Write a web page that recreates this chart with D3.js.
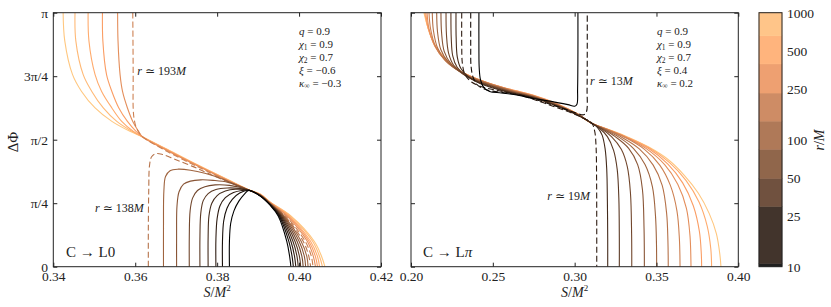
<!DOCTYPE html>
<html>
<head>
<meta charset="utf-8">
<script src="https://cdn.jsdelivr.net/npm/d3@7"></script>
<style>
  body { margin: 0; background: #fff; }
</style>
</head>
<body>
<svg id="chart"></svg>
<script>
// r/M of each curve (colour), 15 log-spaced separations
var rValues = [10, 13.9, 19.3, 26.8, 37.3, 51.8, 72.0, 100, 139, 193, 268, 373, 518, 720, 1000];

// Left panel, C -> L0. Points are [S/M^2, dPhi/pi].
// heads: from the frame edge to the meeting point near S=0.3877
var leftHeads = [
  [[0.3830,0],[0.3830,0.10],[0.3833,0.17],[0.3841,0.220],[0.3853,0.258],[0.3866,0.285],[0.3877,0.300]],
  [[0.3813,0],[0.3813,0.10],[0.3816,0.18],[0.3824,0.230],[0.3837,0.265],[0.3855,0.290],[0.3877,0.301]],
  [[0.3797,0],[0.3797,0.11],[0.3800,0.19],[0.3807,0.240],[0.3820,0.272],[0.3840,0.292],[0.3860,0.300],[0.3877,0.301]],
  [[0.3778,0],[0.3778,0.12],[0.3780,0.20],[0.3787,0.250],[0.3800,0.280],[0.3820,0.298],[0.3845,0.305],[0.3877,0.301]],
  [[0.3758,0],[0.3758,0.12],[0.3760,0.21],[0.3766,0.260],[0.3778,0.288],[0.3797,0.304],[0.3825,0.310],[0.3855,0.308],[0.3877,0.302]],
  [[0.3732,0],[0.3732,0.12],[0.3734,0.22],[0.3740,0.270],[0.3752,0.300],[0.3770,0.315],[0.3795,0.322],[0.3830,0.320],[0.3877,0.302]],
  [[0.3701,0],[0.3701,0.12],[0.3702,0.24],[0.3707,0.295],[0.3718,0.325],[0.3735,0.337],[0.3760,0.342],[0.3790,0.340],[0.3827,0.332],[0.3877,0.302]],
  [[0.3669,0],[0.3669,0.15],[0.3670,0.30],[0.3674,0.355],[0.3685,0.378],[0.3705,0.384],[0.3735,0.380],[0.3770,0.368],[0.3805,0.350],[0.3840,0.327],[0.3877,0.302]],
  [[0.3632,0],[0.3632,0.15],[0.3633,0.30],[0.3635,0.40],[0.3640,0.433],[0.3650,0.445],[0.3665,0.443],[0.3698,0.422],[0.3740,0.395],[0.3780,0.366],[0.3827,0.334],[0.3877,0.302]],
  [[0.3594,1],[0.3595,0.756],[0.3595,0.625],[0.3597,0.585],[0.3602,0.550],[0.3610,0.526],[0.3618,0.511],[0.3673,0.458],[0.3753,0.393],[0.3827,0.337],[0.3877,0.302]],
  [[0.3557,1],[0.3558,0.889],[0.3563,0.756],[0.3569,0.690],[0.3581,0.625],[0.3594,0.572],[0.3608,0.533],[0.3618,0.511],[0.3673,0.461],[0.3753,0.396],[0.3827,0.338],[0.3877,0.302]],
  [[0.3520,1],[0.3521,0.889],[0.3530,0.756],[0.3543,0.690],[0.3560,0.625],[0.3581,0.572],[0.3602,0.533],[0.3618,0.511],[0.3673,0.463],[0.3753,0.397],[0.3827,0.339],[0.3877,0.302]],
  [[0.3485,1],[0.3487,0.889],[0.3502,0.756],[0.3518,0.690],[0.3543,0.625],[0.3567,0.572],[0.3595,0.533],[0.3618,0.511],[0.3673,0.464],[0.3753,0.398],[0.3827,0.340],[0.3877,0.302]],
  [[0.3453,1],[0.3455,0.889],[0.3473,0.756],[0.3494,0.690],[0.3522,0.625],[0.3555,0.572],[0.3592,0.533],[0.3618,0.511],[0.3673,0.465],[0.3753,0.399],[0.3827,0.341],[0.3877,0.303]],
  [[0.3424,1],[0.3428,0.889],[0.3447,0.756],[0.3469,0.690],[0.3502,0.625],[0.3543,0.572],[0.3587,0.533],[0.3618,0.511],[0.3673,0.466],[0.3753,0.400],[0.3827,0.342],[0.3877,0.303]]
];
// tails: from the meeting point down to dPhi = 0
var leftTails = [
  [[0.3905,0.278],[0.3930,0.241],[0.3949,0.2],[0.3970,0.1],[0.3977,0.04],[0.3980,0]],
  [[0.3905,0.279],[0.3930,0.242],[0.3951,0.2],[0.3975,0.1],[0.3983,0.04],[0.3986,0]],
  [[0.3905,0.279],[0.3930,0.243],[0.3953,0.2],[0.3980,0.1],[0.3989,0.04],[0.3992,0]],
  [[0.3905,0.280],[0.3930,0.244],[0.3955,0.2],[0.3985,0.1],[0.3995,0.04],[0.3998,0]],
  [[0.3905,0.280],[0.3930,0.245],[0.3957,0.2],[0.3990,0.1],[0.4001,0.04],[0.4004,0]],
  [[0.3905,0.281],[0.3930,0.246],[0.3959,0.2],[0.3995,0.1],[0.4007,0.04],[0.4010,0]],
  [[0.3905,0.281],[0.3930,0.247],[0.3961,0.2],[0.4000,0.1],[0.4013,0.04],[0.4016,0]],
  [[0.3905,0.282],[0.3930,0.248],[0.3963,0.2],[0.4005,0.1],[0.4019,0.04],[0.4022,0]],
  [[0.3905,0.282],[0.3930,0.249],[0.3965,0.2],[0.4010,0.1],[0.4024,0.04],[0.4028,0]],
  [[0.3905,0.283],[0.3930,0.250],[0.3967,0.2],[0.4015,0.1],[0.4030,0.04],[0.4034,0]],
  [[0.3905,0.283],[0.3930,0.251],[0.3970,0.2],[0.4020,0.1],[0.4035,0.04],[0.4040,0]],
  [[0.3905,0.284],[0.3930,0.252],[0.3973,0.2],[0.4024,0.1],[0.4040,0.04],[0.4045,0]],
  [[0.3905,0.285],[0.3930,0.252],[0.3975,0.2],[0.4028,0.1],[0.4045,0.04],[0.4050,0]],
  [[0.3905,0.285],[0.3930,0.253],[0.3978,0.2],[0.4033,0.1],[0.4050,0.04],[0.4057,0]],
  [[0.3905,0.286],[0.3930,0.254],[0.3980,0.2],[0.4037,0.1],[0.4055,0.04],[0.4063,0]]
];
var leftR = rValues;
var leftDashed = [8, 9];

// Right panel, C -> L pi
var rightR = [10, 13.9, 19.3, 26.8, 37.3, 51.8, 72.0, 100, 139, 193, 268, 373, 518, 1000];
var rightHeads = [
  [[0.2415,1],[0.2415,0.86],[0.2417,0.78],[0.2425,0.735],[0.2445,0.705],[0.2480,0.690],[0.2552,0.684],[0.2654,0.675],[0.2756,0.661],[0.2857,0.651],[0.2959,0.638],[0.3000,0.632],[0.3014,0.640],[0.3018,0.700],[0.3020,0.850],[0.3020,1]],
  [[0.2365,1],[0.2365,0.87],[0.2367,0.79],[0.2380,0.745],[0.2410,0.713],[0.2470,0.695],[0.2560,0.686],[0.2680,0.674],[0.2800,0.650],[0.2920,0.625],[0.3010,0.605],[0.3055,0.598],[0.3072,0.610],[0.3076,0.700],[0.3077,0.850],[0.3077,1]],
  [[0.2310,1],[0.2310,0.88],[0.2314,0.80],[0.2330,0.757],[0.2370,0.727],[0.2450,0.705],[0.2550,0.691],[0.2700,0.669],[0.2850,0.636],[0.3000,0.600],[0.3104,0.565]],
  [[0.2275,1],[0.2276,0.90],[0.2283,0.825],[0.2305,0.780],[0.2350,0.748],[0.2450,0.714],[0.2600,0.686],[0.2750,0.664],[0.2900,0.630],[0.3020,0.596],[0.3104,0.565]],
  [[0.2244,1],[0.2246,0.90],[0.2255,0.830],[0.2282,0.785],[0.2335,0.752],[0.2450,0.717],[0.2600,0.688],[0.2750,0.666],[0.2900,0.632],[0.3020,0.597],[0.3104,0.565]],
  [[0.2214,1],[0.2217,0.91],[0.2230,0.840],[0.2262,0.792],[0.2325,0.756],[0.2450,0.720],[0.2600,0.690],[0.2750,0.667],[0.2900,0.633],[0.3020,0.598],[0.3104,0.565]],
  [[0.2183,1],[0.2187,0.92],[0.2203,0.848],[0.2245,0.798],[0.2315,0.760],[0.2450,0.722],[0.2600,0.692],[0.2750,0.668],[0.2900,0.634],[0.3020,0.598],[0.3104,0.565]],
  [[0.2157,1],[0.2162,0.925],[0.2182,0.855],[0.2230,0.803],[0.2310,0.763],[0.2450,0.724],[0.2600,0.694],[0.2750,0.669],[0.2900,0.635],[0.3020,0.599],[0.3104,0.565]],
  [[0.2130,1],[0.2137,0.93],[0.2162,0.862],[0.2215,0.808],[0.2305,0.766],[0.2450,0.726],[0.2600,0.696],[0.2750,0.671],[0.2900,0.636],[0.3020,0.599],[0.3104,0.565]],
  [[0.2110,1],[0.2120,0.935],[0.2150,0.866],[0.2208,0.812],[0.2303,0.767],[0.2450,0.727],[0.2600,0.697],[0.2750,0.672],[0.2900,0.637],[0.3020,0.600],[0.3104,0.565]],
  [[0.2098,1],[0.2110,0.937],[0.2145,0.869],[0.2205,0.816],[0.2303,0.768],[0.2450,0.728],[0.2600,0.698],[0.2750,0.673],[0.2900,0.638],[0.3020,0.600],[0.3104,0.565]],
  [[0.2090,1],[0.2106,0.938],[0.2145,0.871],[0.2205,0.819],[0.2305,0.769],[0.2450,0.728],[0.2600,0.699],[0.2750,0.674],[0.2900,0.639],[0.3020,0.601],[0.3104,0.565]],
  [[0.2084,1],[0.2104,0.939],[0.2145,0.873],[0.2206,0.821],[0.2306,0.769],[0.2450,0.728],[0.2600,0.699],[0.2750,0.675],[0.2900,0.640],[0.3020,0.601],[0.3104,0.565]],
  [[0.2079,1],[0.2104,0.940],[0.2145,0.874],[0.2206,0.822],[0.2307,0.769],[0.2450,0.728],[0.2654,0.682],[0.2837,0.647],[0.3000,0.604],[0.3104,0.565]]
];
var rightTails = [
  [],
  [],
  [[0.3122,0.535],[0.3131,0.470],[0.3134,0.350],[0.3135,0.150],[0.3135,0]],
  [[0.3140,0.548],[0.3168,0.518],[0.3186,0.465],[0.3196,0.385],[0.3200,0.260],[0.3202,0.110],[0.3202,0]],
  [[0.3150,0.546],[0.3200,0.512],[0.3238,0.458],[0.3260,0.383],[0.3270,0.270],[0.3273,0.110],[0.3273,0]],
  [[0.3160,0.545],[0.3225,0.512],[0.3285,0.462],[0.3322,0.393],[0.3341,0.290],[0.3348,0.130],[0.3349,0]],
  [[0.3170,0.543],[0.3250,0.511],[0.3330,0.466],[0.3385,0.402],[0.3414,0.305],[0.3424,0.150],[0.3426,0]],
  [[0.3180,0.542],[0.3270,0.510],[0.3360,0.465],[0.3430,0.402],[0.3475,0.315],[0.3494,0.200],[0.3500,0.090],[0.3501,0]],
  [[0.3190,0.541],[0.3290,0.509],[0.3395,0.464],[0.3480,0.400],[0.3535,0.320],[0.3562,0.210],[0.3570,0.100],[0.3572,0]],
  [[0.3200,0.540],[0.3310,0.508],[0.3425,0.463],[0.3520,0.400],[0.3585,0.320],[0.3625,0.220],[0.3640,0.110],[0.3644,0]],
  [[0.3200,0.540],[0.3320,0.508],[0.3440,0.464],[0.3550,0.402],[0.3630,0.325],[0.3683,0.230],[0.3705,0.120],[0.3711,0]],
  [[0.3200,0.541],[0.3320,0.509],[0.3450,0.466],[0.3570,0.404],[0.3660,0.330],[0.3725,0.240],[0.3762,0.140],[0.3774,0.05],[0.3776,0]],
  [[0.3200,0.541],[0.3320,0.510],[0.3455,0.468],[0.3580,0.410],[0.3680,0.340],[0.3760,0.255],[0.3810,0.160],[0.3832,0.07],[0.3837,0]],
  [[0.3200,0.542],[0.3320,0.512],[0.3450,0.472],[0.3565,0.425],[0.3670,0.360],[0.3755,0.290],[0.3822,0.210],[0.3866,0.130],[0.3887,0.050],[0.3894,0]]
];
var rightDashed = [1, 2];

// ticks and text
var leftXTicks = [0.34, 0.36, 0.38, 0.40, 0.42];
var rightXTicks = [0.20, 0.25, 0.30, 0.35, 0.40];
var yTicks = [0, 0.25, 0.5, 0.75, 1];
var yTickLabels = ["0", "π/4", "π/2", "3π/4", "π"];
var paramNames = ["q", "χ", "χ", "ξ", "κ"];
var paramSubs = ["", "1", "2", "", "∞"];
var leftParams = ["0.9", "0.9", "0.7", "−0.6", "−0.3"];
var rightParams = ["0.9", "0.9", "0.7", "0.4", "0.2"];
var cbarTicks = [10, 25, 50, 100, 250, 500, 1000];
var cbarEdges = [10, 10.6, 29.8, 49.6, 84, 140, 233, 395, 658, 1000];

var W = 831, H = 307;
var yTop = 12.7, yBot = 266.7;
var FONT = '"Liberation Serif", "DejaVu Serif", "Times New Roman", serif';

var svg = d3.select("#chart").attr("width", W).attr("height", H);
svg.append("rect").attr("width", W).attr("height", H).attr("fill", "#fff");

// matplotlib "copper" on a log norm 10..1000
function copper(r) {
  var t = (Math.log10(r) - 1) / 2;
  t = Math.max(0, Math.min(1, t));
  return d3.rgb(255 * Math.min(1, 1.25 * t), 255 * 0.7812 * t, 255 * 0.4975 * t).toString();
}

var y = d3.scaleLinear().domain([0, 1]).range([yBot, yTop]);
var xL = d3.scaleLinear().domain([0.34, 0.42]).range([53.3, 381]);
var xR = d3.scaleLinear().domain([0.20, 0.40]).range([411, 738.3]);

function styleAxis(g, size) {
  g.attr("font-family", null).attr("font-size", null);
  g.select(".domain").remove();
  g.selectAll("line").attr("stroke", "#222");
  g.selectAll("text").style("font-size", size + "px").attr("fill", "#222");
}

function mathText(g, x, yy, parts, size) {
  // parts: [text, italic?] pairs
  var t = g.append("text").attr("x", x).attr("y", yy).style("font-size", size + "px").attr("fill", "#222");
  parts.forEach(function(p) {
    t.append("tspan").text(p[0]).style("font-style", p[1] ? "italic" : "normal");
  });
  return t;
}

function drawPanel(id, x, heads, tails, rs, dashed, xticks, showYLabels) {
  var g = svg.append("g");
  var x0 = x.range()[0], x1 = x.range()[1];

  g.append("clipPath").attr("id", id).append("rect")
    .attr("x", x0).attr("y", yTop).attr("width", x1 - x0).attr("height", yBot - yTop);

  var line = d3.line()
    .x(function(d) { return x(d[0]); })
    .y(function(d) { return y(d[1]); })
    .curve(d3.curveCatmullRom.alpha(0.5));

  var curves = heads.map(function(h, i) {
    return { r: rs[i], dash: dashed.indexOf(i) >= 0, pts: h.concat(tails[i]) };
  });
  curves.reverse(); // light first, dark on top

  g.append("g").attr("clip-path", "url(#" + id + ")")
    .selectAll("path")
    .data(curves)
    .enter()
    .append("path")
    .attr("d", function(d) { return line(d.pts); })
    .attr("fill", "none")
    .attr("stroke", function(d) { return copper(d.r); })
    .attr("stroke-width", 1.1)
    .attr("stroke-dasharray", function(d) { return d.dash ? "6,3" : null; });

  // axes, ticks pointing inward on all four sides
  g.append("g").attr("transform", "translate(0," + yBot + ")")
    .call(d3.axisBottom(x).tickValues(xticks).tickSize(-4).tickPadding(4.5).tickFormat(d3.format(".2f")))
    .call(styleAxis, 13.5);
  g.append("g").attr("transform", "translate(0," + yTop + ")")
    .call(d3.axisTop(x).tickValues(xticks).tickSize(-4).tickFormat(""))
    .call(styleAxis, 13.5);
  g.append("g").attr("transform", "translate(" + x0 + ",0)")
    .call(d3.axisLeft(y).tickValues(yTicks).tickSize(-4).tickPadding(5.3)
      .tickFormat(function(d, i) { return showYLabels ? yTickLabels[i] : ""; }))
    .call(styleAxis, 13.5);
  g.append("g").attr("transform", "translate(" + x1 + ",0)")
    .call(d3.axisRight(y).tickValues(yTicks).tickSize(-4).tickFormat(""))
    .call(styleAxis, 13.5);

  g.append("rect")
    .attr("x", x0).attr("y", yTop).attr("width", x1 - x0).attr("height", yBot - yTop)
    .attr("fill", "none").attr("stroke", "#222").attr("stroke-width", 1);

  // x label
  var xl = g.append("text").attr("x", (x0 + x1) / 2).attr("y", 297)
    .attr("text-anchor", "middle").style("font-size", "14px").attr("fill", "#222");
  xl.append("tspan").text("S").style("font-style", "italic");
  xl.append("tspan").text("/");
  xl.append("tspan").text("M").style("font-style", "italic");
  xl.append("tspan").text("2").style("font-size", "9px").attr("dy", -6);
  return g;
}

function drawParams(g, x0, values) {
  values.forEach(function(v, i) {
    var t = g.append("text").attr("x", x0).attr("y", 35 + i * 12.9)
      .style("font-size", "11px").attr("fill", "#222");
    t.append("tspan").text(paramNames[i]).style("font-style", "italic");
    if (paramSubs[i]) {
      t.append("tspan").text(paramSubs[i]).style("font-size", "7.5px").attr("dy", 1.8);
      t.append("tspan").text(" = " + v).attr("dy", -1.8);
    } else {
      t.append("tspan").text(" = " + v);
    }
  });
}

// left panel
var gL = drawPanel("clipL", xL, leftHeads, leftTails, leftR, leftDashed, leftXTicks, true);
drawParams(gL, 299, leftParams);
mathText(gL, xL(0.3605), y(0.755), [["r", true], [" ≃ 193", false], ["M", true]], 12);
mathText(gL, xL(0.3621), y(0.215), [["r", true], [" ≃ 138", false], ["M", true]], 12).attr("text-anchor", "end");
mathText(gL, 66, 257, [["C → L0", false]], 15);

// right panel
var gR = drawPanel("clipR", xR, rightHeads, rightTails, rightR, rightDashed, rightXTicks, false);
drawParams(gR, 657, rightParams);
mathText(gR, xR(0.3094), y(0.715), [["r", true], [" ≃ 13", false], ["M", true]], 12);
mathText(gR, xR(0.3094), y(0.261), [["r", true], [" ≃ 19", false], ["M", true]], 12).attr("text-anchor", "end");
mathText(gR, 423, 257, [["C → L", false], ["π", true]], 15);

// y label
svg.append("text").attr("transform", "translate(18,142) rotate(-90)")
  .attr("text-anchor", "middle").style("font-size", "15px").attr("fill", "#222").text("ΔΦ");

// colour bar
var cb = d3.scaleLog().domain([10, 1000]).range([yBot, yTop]);
var cbX = 759, cbW = 23;
var bands = d3.pairs(cbarEdges);
svg.append("g").attr("opacity", 0.88).selectAll("rect")
  .data(bands)
  .enter()
  .append("rect")
  .attr("x", cbX)
  .attr("y", function(d) { return cb(d[1]); })
  .attr("width", cbW)
  .attr("height", function(d) { return cb(d[0]) - cb(d[1]); })
  .attr("fill", function(d) { return copper(Math.sqrt(d[0] * d[1])); })
  .attr("stroke", function(d) { return copper(Math.sqrt(d[0] * d[1])); })
  .attr("stroke-width", 0.5);
svg.append("rect").attr("x", cbX).attr("y", yTop).attr("width", cbW).attr("height", yBot - yTop)
  .attr("fill", "none").attr("stroke", "#222").attr("stroke-width", 1);
svg.append("g").attr("transform", "translate(" + (cbX + cbW) + ",0)")
  .call(d3.axisRight(cb).tickValues(cbarTicks).tickSize(0).tickPadding(5).tickFormat(d3.format("d")))
  .call(styleAxis, 13.5);

var rl = svg.append("text").attr("transform", "translate(824,140) rotate(-90)")
  .attr("text-anchor", "middle").style("font-size", "14px").attr("fill", "#222");
rl.append("tspan").text("r").style("font-style", "italic");
rl.append("tspan").text("/");
rl.append("tspan").text("M").style("font-style", "italic");

// one serif face for every text
svg.selectAll("text").style("font-family", FONT);
</script>
</body>
</html>
